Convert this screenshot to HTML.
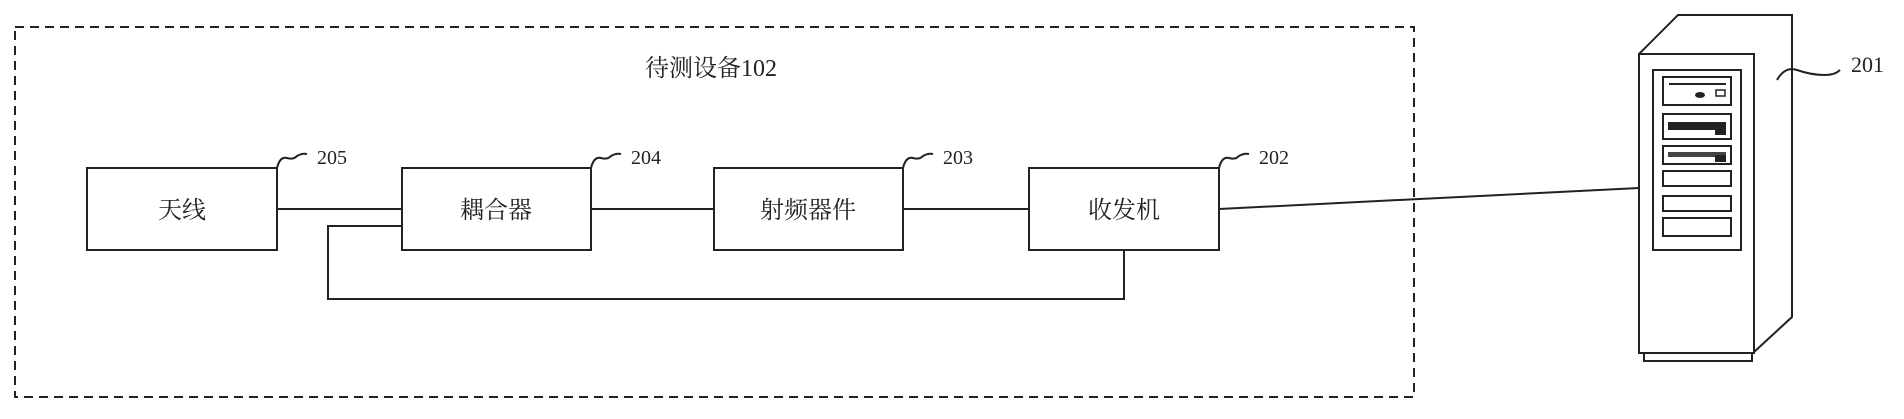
<!DOCTYPE html>
<html><head><meta charset="utf-8"><style>
body{margin:0;background:#fff}
svg text{font-family:"Liberation Serif","Noto Serif CJK SC","Noto Sans CJK SC",serif;fill:#222}
</style></head><body>
<svg width="1904" height="414" xmlns="http://www.w3.org/2000/svg">
<g stroke="#222" stroke-width="2" fill="none">
<rect x="15" y="27" width="1399" height="370" stroke-dasharray="9,6"/>
<rect x="87" y="168" width="190" height="82" fill="#fff"/>
<rect x="402" y="168" width="189" height="82" fill="#fff"/>
<rect x="714" y="168" width="189" height="82" fill="#fff"/>
<rect x="1029" y="168" width="190" height="82" fill="#fff"/>
<line x1="277" y1="209" x2="402" y2="209"/>
<line x1="591" y1="209" x2="714" y2="209"/>
<line x1="903" y1="209" x2="1029" y2="209"/>
<polyline points="402,226 328,226 328,299 1124,299 1124,250"/>
<line x1="1219" y1="209" x2="1639" y2="188"/>
<path d="M277,168 q3,-12 10,-10 q6,2 10,-2 q5,-3 10,-2"/>
<path d="M591,168 q3,-12 10,-10 q6,2 10,-2 q5,-3 10,-2"/>
<path d="M903,168 q3,-12 10,-10 q6,2 10,-2 q5,-3 10,-2"/>
<path d="M1219,168 q3,-12 10,-10 q6,2 10,-2 q5,-3 10,-2"/>
<path d="M1639,54 L1678,15 L1792,15 L1792,317 L1754,352"/>
<rect x="1639" y="54" width="115" height="299" fill="#fff"/>
<rect x="1644" y="353" width="108" height="8"/>
<rect x="1653" y="70" width="88" height="180"/>
<rect x="1663" y="77" width="68" height="28"/>
<rect x="1663" y="114" width="68" height="25"/>
<rect x="1663" y="146" width="68" height="18"/>
<rect x="1663" y="171" width="68" height="15"/>
<rect x="1663" y="196" width="68" height="15"/>
<rect x="1663" y="218" width="68" height="18"/>
<line x1="1669" y1="84" x2="1726" y2="84"/>
<rect x="1716" y="90" width="9" height="6" stroke-width="1.5"/>
<path d="M1777,80 q8,-14 20,-10 q14,5 28,5 q10,0 15,-5"/>
</g>
<ellipse cx="1700" cy="95" rx="5" ry="3" fill="#222"/>
<rect x="1668" y="122" width="58" height="8" fill="#222"/>
<rect x="1715" y="128" width="11" height="7" fill="#222"/>
<rect x="1668" y="152" width="58" height="5" fill="#444"/>
<rect x="1715" y="155" width="11" height="7" fill="#222"/>
<g font-size="24" text-anchor="middle">
<text x="182" y="218">天线</text>
<text x="496" y="218">耦合器</text>
<text x="808" y="218">射频器件</text>
<text x="1124" y="218">收发机</text>
</g>
<text x="711" y="76" font-size="24" text-anchor="middle">待测设备102</text>
<g font-size="20">
<text x="317" y="164">205</text>
<text x="631" y="164">204</text>
<text x="943" y="164">203</text>
<text x="1259" y="164">202</text>
<text x="1851" y="72" font-size="22">201</text>
</g>
</svg>
</body></html>
